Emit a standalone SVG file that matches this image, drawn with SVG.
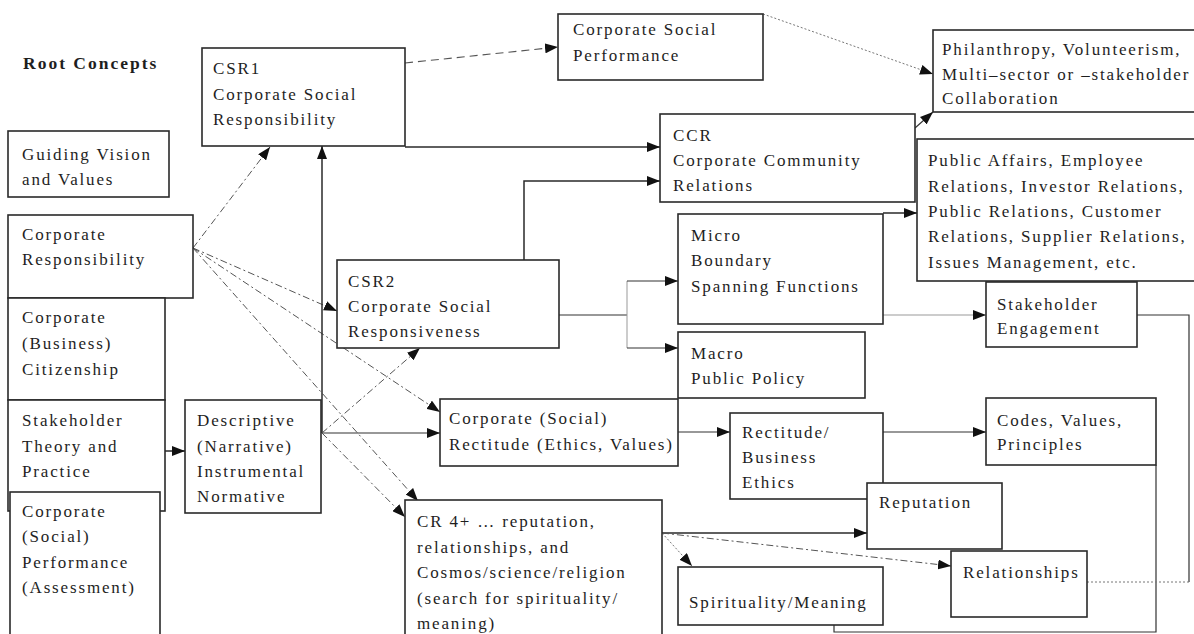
<svg xmlns="http://www.w3.org/2000/svg" width="1194" height="634" viewBox="0 0 1194 634">
  <defs>
    <marker id="arrow" viewBox="0 0 13 10" refX="13" refY="5" markerWidth="13" markerHeight="10" markerUnits="userSpaceOnUse" orient="auto">
      <path d="M0,0 L13,5 L0,10 Z" fill="#111"/>
    </marker>
    <style>
      text { font-family: "Liberation Serif", "Times New Roman", serif; font-size: 17px; letter-spacing: 1.85px; fill: #1e1e1e; }
      .title { font-weight: bold; font-size: 17.5px; letter-spacing: 2px; }
      .box { fill: #fff; stroke: #2a2a2a; stroke-width: 1.6; }
      .solid { fill: none; stroke: #2a2a2a; stroke-width: 1.5; }
      .thin { fill: none; stroke: #333; stroke-width: 1.2; }
      .dash { fill: none; stroke: #555; stroke-width: 1; stroke-dasharray: 7 3 2 3; }
      .dashlong { fill: none; stroke: #555; stroke-width: 1.1; stroke-dasharray: 8 5; }
      .dot { fill: none; stroke: #777; stroke-width: 1; stroke-dasharray: 2 2; }
      .faint { fill: none; stroke: #999; stroke-width: 1; }
    </style>
  </defs>

  <rect width="1194" height="634" fill="#fff"/>

  <text class="title" x="23" y="69">Root Concepts</text>

  <!-- connectors -->
  <g id="connectors">
    <!-- from Corporate Responsibility -->
    <path class="dash" d="M193,248 L270,147" marker-end="url(#arrow)"/>
    <path class="dash" d="M193,248 L337,311" marker-end="url(#arrow)"/>
    <path class="dash" d="M193,248 L440,412" marker-end="url(#arrow)"/>
    <path class="dash" d="M193,248 L418,501" marker-end="url(#arrow)"/>
    <!-- CSR1 outputs -->
    <path class="dashlong" d="M405,63 L558,47" marker-end="url(#arrow)"/>
    <path class="solid" d="M405,147 H660" marker-end="url(#arrow)"/>
    <!-- Corporate Social Performance to Philanthropy -->
    <path class="dot" d="M763,14 L933,74" marker-end="url(#arrow)"/>
    <!-- CCR to Philanthropy -->
    <path class="thin" d="M915,128 L933,112" marker-end="url(#arrow)"/>
    <!-- CSR2 to CCR -->
    <path class="solid" d="M524,260 V181 H660" marker-end="url(#arrow)"/>
    <!-- Micro to Public Affairs -->
    <path class="solid" d="M883,213 H917" marker-end="url(#arrow)"/>
    <!-- CSR2 to Micro / Macro -->
    <path class="thin" d="M559,315 H627"/>
    <path class="faint" d="M627,281 V348"/>
    <path class="thin" d="M627,281 H678" marker-end="url(#arrow)"/>
    <path class="thin" d="M627,348 H678" marker-end="url(#arrow)"/>
    <!-- Micro to Stakeholder Engagement -->
    <path class="faint" d="M883,315 H986" marker-end="url(#arrow)"/>
    <!-- from Descriptive / Instrumental / Normative -->
    <path class="solid" d="M322,433 V146" marker-end="url(#arrow)"/>
    <path class="thin" d="M322,433 H440" marker-end="url(#arrow)"/>
    <path class="dash" d="M322,433 L420,348" marker-end="url(#arrow)"/>
    <path class="dash" d="M322,433 L405,517" marker-end="url(#arrow)"/>
    <!-- Stakeholder Theory to Descriptive -->
    <path class="solid" d="M165,451 H185" marker-end="url(#arrow)"/>
    <!-- Rectitude chain -->
    <path class="thin" d="M678,432 H730" marker-end="url(#arrow)"/>
    <path class="thin" d="M883,432 H986" marker-end="url(#arrow)"/>
    <!-- CR 4+ outputs -->
    <path class="solid" d="M662,533 H867" marker-end="url(#arrow)"/>
    <path class="dash" d="M662,533 L951,566" marker-end="url(#arrow)"/>
    <path class="dot" d="M662,533 L692,566" marker-end="url(#arrow)"/>
    <!-- return links -->
    <path class="thin" d="M834,625 V632 H1156 V465"/>
    <path class="thin" d="M1189,582 V315 H1137"/>
    <path class="dot" d="M1087,582 H1189"/>
  </g>

  <!-- nodes -->
  <g id="csr1">
    <rect class="box" x="202" y="48" width="203" height="98"/>
    <text x="213" y="74">CSR1</text>
    <text x="213" y="100">Corporate Social</text>
    <text x="213" y="125">Responsibility</text>
  </g>

  <g id="guiding-vision">
    <rect class="box" x="8" y="131" width="161" height="66"/>
    <text x="22" y="160">Guiding Vision</text>
    <text x="22" y="185">and Values</text>
  </g>

  <g id="corporate-responsibility">
    <rect class="box" x="8" y="215" width="185" height="83"/>
    <text x="22" y="240">Corporate</text>
    <text x="22" y="265">Responsibility</text>
  </g>

  <g id="citizenship">
    <rect class="box" x="8" y="298" width="157" height="102"/>
    <text x="22" y="323">Corporate</text>
    <text x="22" y="349">(Business)</text>
    <text x="22" y="375">Citizenship</text>
  </g>

  <g id="stakeholder-theory">
    <rect class="box" x="8" y="400" width="157" height="111"/>
    <text x="22" y="426">Stakeholder</text>
    <text x="22" y="452">Theory and</text>
    <text x="22" y="477">Practice</text>
  </g>

  <g id="social-performance-assessment">
    <rect class="box" x="10" y="492" width="150" height="150"/>
    <text x="22" y="517">Corporate</text>
    <text x="22" y="542">(Social)</text>
    <text x="22" y="568">Performance</text>
    <text x="22" y="593">(Assessment)</text>
  </g>

  <g id="descriptive">
    <rect class="box" x="185" y="400" width="136" height="113"/>
    <text x="197" y="426">Descriptive</text>
    <text x="197" y="452">(Narrative)</text>
    <text x="197" y="477">Instrumental</text>
    <text x="197" y="502">Normative</text>
  </g>

  <g id="csr2">
    <rect class="box" x="337" y="260" width="222" height="88"/>
    <text x="348" y="287">CSR2</text>
    <text x="348" y="312">Corporate Social</text>
    <text x="348" y="337">Responsiveness</text>
  </g>

  <g id="corporate-social-performance">
    <rect class="box" x="558" y="14" width="205" height="66"/>
    <text x="573" y="35">Corporate Social</text>
    <text x="573" y="61">Performance</text>
  </g>

  <g id="ccr">
    <rect class="box" x="660" y="114" width="255" height="88"/>
    <text x="673" y="141">CCR</text>
    <text x="673" y="166">Corporate Community</text>
    <text x="673" y="191">Relations</text>
  </g>

  <g id="philanthropy">
    <rect class="box" x="933" y="30" width="270" height="82"/>
    <text x="942" y="55">Philanthropy, Volunteerism,</text>
    <text x="942" y="80">Multi–sector or –stakeholder</text>
    <text x="942" y="104">Collaboration</text>
  </g>

  <g id="public-affairs">
    <rect class="box" x="917" y="139" width="286" height="142"/>
    <text x="928" y="166">Public Affairs, Employee</text>
    <text x="928" y="192">Relations, Investor Relations,</text>
    <text x="928" y="217">Public Relations, Customer</text>
    <text x="928" y="242">Relations, Supplier Relations,</text>
    <text x="928" y="268">Issues Management, etc.</text>
  </g>

  <g id="micro">
    <rect class="box" x="678" y="214" width="205" height="110"/>
    <text x="691" y="241">Micro</text>
    <text x="691" y="266">Boundary</text>
    <text x="691" y="292">Spanning Functions</text>
  </g>

  <g id="macro">
    <rect class="box" x="678" y="332" width="187" height="66"/>
    <text x="691" y="359">Macro</text>
    <text x="691" y="384">Public Policy</text>
  </g>

  <g id="stakeholder-engagement">
    <rect class="box" x="986" y="282" width="151" height="65"/>
    <text x="997" y="310">Stakeholder</text>
    <text x="997" y="334">Engagement</text>
  </g>

  <g id="rectitude">
    <rect class="box" x="440" y="399" width="238" height="67"/>
    <text x="449" y="424">Corporate (Social)</text>
    <text x="449" y="450">Rectitude (Ethics, Values)</text>
  </g>

  <g id="business-ethics">
    <rect class="box" x="730" y="413" width="153" height="86"/>
    <text x="742" y="438">Rectitude/</text>
    <text x="742" y="463">Business</text>
    <text x="742" y="488">Ethics</text>
  </g>

  <g id="codes">
    <rect class="box" x="986" y="398" width="170" height="67"/>
    <text x="997" y="426">Codes, Values,</text>
    <text x="997" y="450">Principles</text>
  </g>

  <g id="reputation">
    <rect class="box" x="867" y="483" width="135" height="66"/>
    <text x="879" y="508">Reputation</text>
  </g>

  <g id="relationships">
    <rect class="box" x="951" y="551" width="136" height="66"/>
    <text x="963" y="578">Relationships</text>
  </g>

  <g id="spirituality">
    <rect class="box" x="678" y="567" width="205" height="58"/>
    <text x="689" y="608">Spirituality/Meaning</text>
  </g>

  <g id="cr4">
    <rect class="box" x="405" y="500" width="257" height="145"/>
    <text x="417" y="527">CR 4+ … reputation,</text>
    <text x="417" y="553">relationships, and</text>
    <text x="417" y="578">Cosmos/science/religion</text>
    <text x="417" y="604">(search for spirituality/</text>
    <text x="417" y="629">meaning)</text>
  </g>
</svg>
